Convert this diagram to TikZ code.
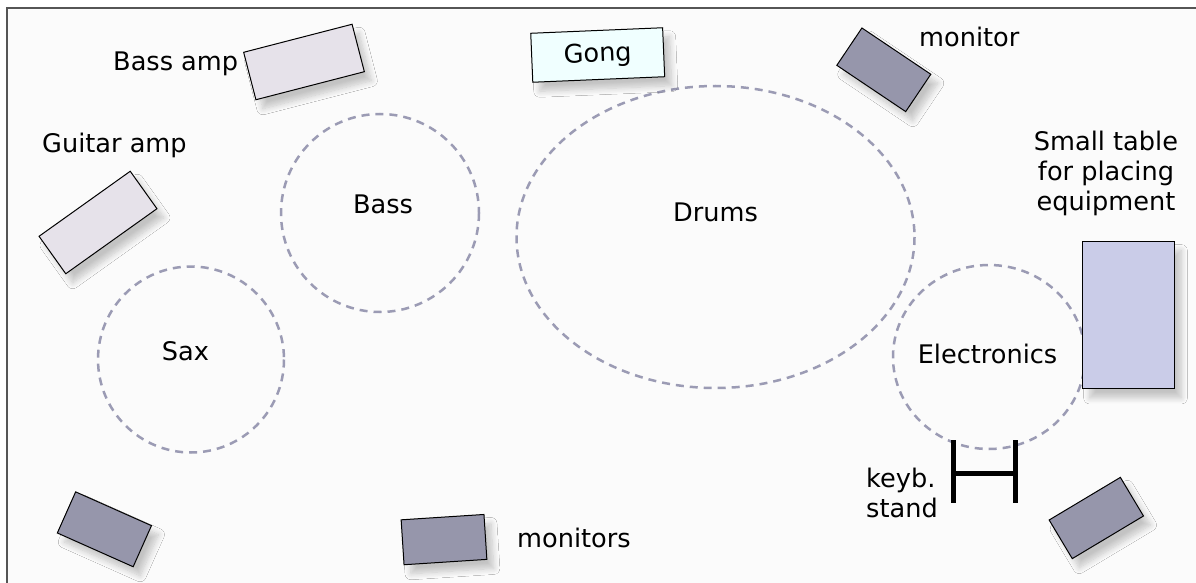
\documentclass[tikz,border=0pt]{standalone}
\usepackage{fontspec}
\setmainfont{DejaVu Sans}
\usetikzlibrary{shadows.blur}

\definecolor{stagebg}{RGB}{251,251,251}
\definecolor{framegray}{RGB}{85,85,85}
\definecolor{ringgray}{RGB}{155,155,180}
\definecolor{ampfill}{RGB}{230,226,234}
\definecolor{gongfill}{RGB}{240,255,255}
\definecolor{monfill}{RGB}{150,150,171}
\definecolor{tablefill}{RGB}{202,204,232}

\tikzset{
  gear/.style={draw=black, line width=1pt, inner sep=0pt, outer sep=0pt,
    blur shadow={shadow xshift=7pt, shadow yshift=-9pt, shadow blur radius=6pt, shadow blur steps=10, shadow opacity=22}},
  ampbox/.style={gear, fill=ampfill, minimum width=112pt},
  monbox/.style={gear, fill=monfill, minimum width=83pt, minimum height=45pt},
  area/.style={draw=ringgray, line width=2.5pt, dash pattern=on 8pt off 6pt},
  lbl/.style={inner sep=0pt, font=\fontsize{25.6}{30}\selectfont},
}

\begin{document}
\begin{tikzpicture}[x=1pt,y=-1pt]
\useasboundingbox (0,0) rectangle (1196,583);
% stage
\fill[stagebg] (7,8) rectangle (1196,583);
\draw[framegray, line width=1.5pt] (7,583) -- (7,8) -- (1196,8);

% playing areas
\draw[area] (191,359.5) circle (93);
\draw[area] (380,213) circle (99);
\draw[area] (715.5,237) ellipse (199 and 151);
\draw[area] (989,357) ellipse (96 and 92);
\node[lbl, anchor=base] (sax) at (185.5,360) {Sax};
\node[lbl, anchor=base] (bass) at (383,213) {Bass};
\node[lbl, anchor=base] (drums) at (715.5,221.5) {Drums};
\node[lbl, anchor=base] (electronics) at (987.5,363) {Electronics};

% amps and gong
\node[ampbox, minimum height=49pt, rotate=14.5] (bassamp) at (304,62) {};
\node[ampbox, minimum height=46pt, rotate=35.5] (gtramp) at (98,222.5) {};
\node[gear, lbl, fill=gongfill, minimum width=132pt, minimum height=49pt, rotate=2.4] (gong) at (597.7,55) {Gong};
\node[lbl, anchor=base west] (lbassamp) at (113,70.7) {Bass amp};
\node[lbl, anchor=base west] (lgtramp) at (42,153) {Guitar amp};

% monitors
\node[monbox, rotate=-33.9] (montop) at (883.8,69.8) {};
\node[monbox, rotate=-24] (monbl) at (104.4,529.3) {};
\node[monbox, rotate=3.7] (monbm) at (444,539.6) {};
\node[monbox, rotate=30.9] (monbr) at (1096.3,518) {};
\node[lbl, anchor=base west] (lmontop) at (919,47) {monitor};
\node[lbl, anchor=base west] (lmonbm) at (517,547) {monitors};

% table and keyboard stand
\node[gear, fill=tablefill, minimum width=91.6pt, minimum height=147.3pt] (table) at (1128.5,315.3) {};
\node[lbl, align=center] (ltable) at (1106,173) {Small table\\for placing\\equipment};
\draw[line width=5pt] (953,440) -- (953,503) (1015,440) -- (1015,503) (953,473) -- (1015,473);
\node[lbl, align=left, anchor=west] (lstand) at (866,493) {keyb.\\stand};
\end{tikzpicture}
\end{document}
